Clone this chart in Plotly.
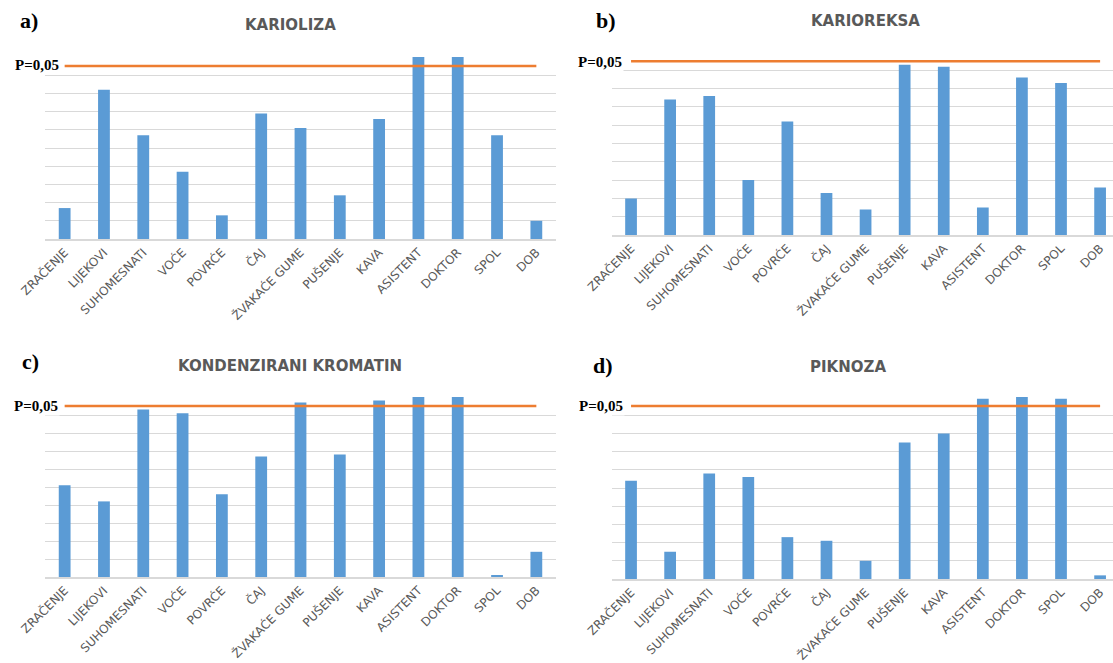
import plotly.graph_objects as go

W, H = 1113, 663

categories = ["ZRAČENJE", "LIJEKOVI", "SUHOMESNATI", "VOĆE", "POVRĆE", "ČAJ",
              "ŽVAKAĆE GUME", "PUŠENJE", "KAVA", "ASISTENT", "DOKTOR", "SPOL", "DOB"]

# values shown as 1 - p (threshold line at 1 - 0.05)
karioliza = [0.17, 0.82, 0.57, 0.37, 0.13, 0.69, 0.61, 0.24, 0.66, 1.0, 1.0, 0.57, 0.10]
karioreksa = [0.20, 0.74, 0.76, 0.30, 0.62, 0.23, 0.14, 0.93, 0.92, 0.15, 0.86, 0.83, 0.26]
kondenzirani_kromatin = [0.51, 0.42, 0.93, 0.91, 0.46, 0.67, 0.97, 0.68, 0.98, 1.0, 1.0, 0.01, 0.14]
piknoza = [0.54, 0.15, 0.58, 0.56, 0.23, 0.21, 0.10, 0.75, 0.80, 0.99, 1.0, 0.99, 0.02]
threshold = 0.95
threshold_label = "P=0,05"

titles = ["KARIOLIZA", "KARIOREKSA", "KONDENZIRANI KROMATIN", "PIKNOZA"]
panel_letters = ["a)", "b)", "c)", "d)"]
series = [karioliza, karioreksa, kondenzirani_kromatin, piknoza]

BAR = "#5B9BD5"
ORANGE = "#ED7D31"
GRID = "#D9D9D9"
TXT = "#595959"


def fx(x):
    return x / W


def fy(y):
    return 1 - y / H


# panel geometry in pixels: (x0, x1, y_top, y_base, xrange_max)
panels = [
    (45, 556, 57, 239, 12.5),
    (611.5, 1113, 52, 235, 12.33),
    (45, 556, 397, 577, 12.5),
    (611.5, 1113, 397, 579, 12.33),
]
title_pos = [(290, 25), (865, 21), (290, 366), (848, 367)]
letter_pos = [(29, 20), (606, 20), (30, 362), (603, 365)]
plabel_pos = [(61, 65), (624, 62), (60, 406), (625, 406)]

fig = go.Figure()
layout = dict(
    width=W, height=H, margin=dict(l=0, r=0, t=0, b=0, autoexpand=False),
    paper_bgcolor="white", plot_bgcolor="white", showlegend=False,
    bargap=0.70, hovermode=False,
)
annotations = []
for i, (vals, (x0, x1, yt, yb, xmax)) in enumerate(zip(series, panels)):
    n = "" if i == 0 else str(i + 1)
    xa, ya = "x" + n, "y" + n
    fig.add_trace(go.Bar(x=categories, y=vals, marker=dict(color=BAR, line=dict(width=0)),
                         xaxis=xa, yaxis=ya, cliponaxis=False))
    fig.add_trace(go.Scatter(x=categories, y=[threshold] * len(categories), mode="lines",
                             line=dict(color=ORANGE, width=2.5), xaxis=xa, yaxis=ya))
    layout["xaxis" + n] = dict(
        domain=[fx(x0), fx(x1)], anchor=ya, type="category", range=[-0.5, xmax],
        showgrid=False, showline=True, linecolor=GRID, linewidth=1.5, ticks="",
        tickangle=-45, tickfont=dict(family="DejaVu Sans", size=12, color=TXT),
        fixedrange=True, automargin=False,
    )
    layout["yaxis" + n] = dict(
        domain=[fy(yb), fy(yt)], anchor=xa, range=[0, 1], dtick=0.1,
        showgrid=True, gridcolor=GRID, gridwidth=1, zeroline=False,
        showticklabels=False, ticks="", showline=False, fixedrange=True, automargin=False,
    )
    tx, ty = title_pos[i]
    annotations.append(dict(text="<b>" + titles[i] + "</b>", x=fx(tx), y=fy(ty),
                            xref="paper", yref="paper",
                            xanchor="center", yanchor="middle", showarrow=False,
                            font=dict(family="DejaVu Sans", size=15, color=TXT)))
    lx, ly = letter_pos[i]
    annotations.append(dict(text="<b>" + panel_letters[i] + "</b>", x=fx(lx), y=fy(ly),
                            xref="paper", yref="paper", xanchor="center", yanchor="middle",
                            showarrow=False,
                            font=dict(family="Liberation Serif", size=22, color="black")))
    px_, py_ = plabel_pos[i]
    annotations.append(dict(text="<b>" + threshold_label + "</b>", x=fx(px_), y=fy(py_),
                            xref="paper", yref="paper", xanchor="right", yanchor="middle",
                            showarrow=False, bgcolor="white", borderpad=1,
                            font=dict(family="Liberation Serif", size=15, color="black")))

layout["annotations"] = annotations
fig.update_layout(**layout)
fig.write_html("out.html", config={"displayModeBar": False},
               post_script="document.body.style.margin='0px';document.body.style.overflow='hidden';")
